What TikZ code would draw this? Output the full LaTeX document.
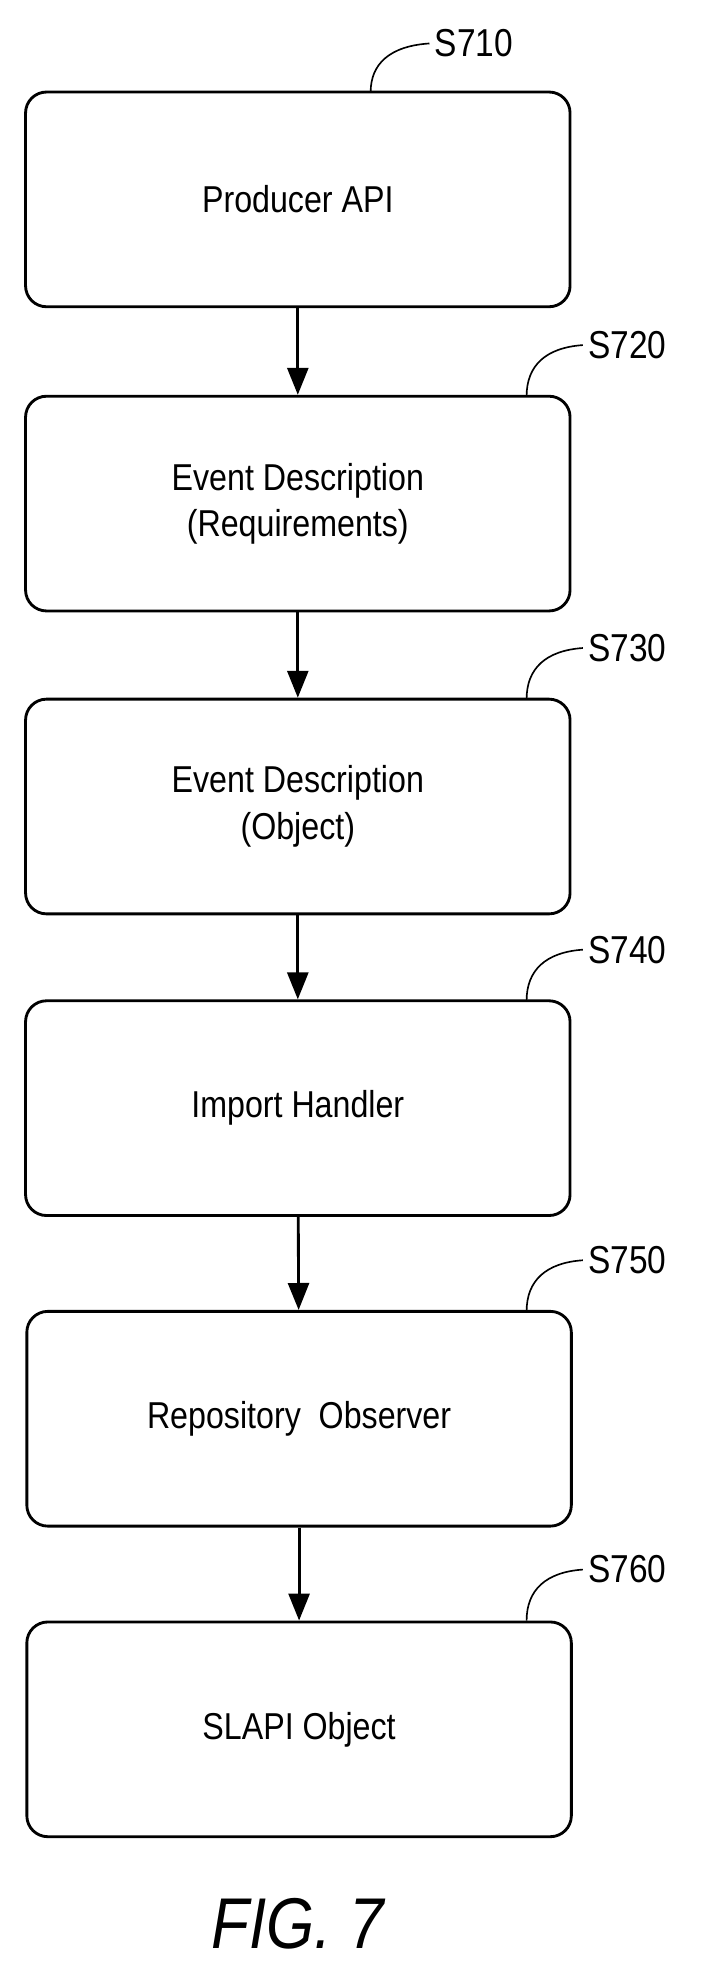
\documentclass[tikz,border=0pt]{standalone}
\usepackage{fontspec}
\setmainfont[FakeStretch=0.86]{Liberation Sans}
\usetikzlibrary{arrows.meta, positioning}

\begin{document}
\begin{tikzpicture}[x=0.03cm, y=-0.03cm,
    stage/.style={draw, line width=1.9pt, rounded corners=14pt, minimum width=12.78cm,
      minimum height=5.04cm, align=center, font=\fontsize{25}{31}\selectfont},
    tag/.style={font=\fontsize{26}{31}\selectfont, anchor=west},
    flow/.style={line width=1.9pt, -{Triangle[length=18pt, width=14pt]}}]
  \useasboundingbox (0,0) rectangle (550,1546);

  % Steps
  \node[stage] (p) at (233,156) {Producer API};
  \node[stage] (r) at (233,394) {Event Description\\(Requirements)};
  \node[stage] (o) at (233,631) {Event Description\\(Object)};
  \node[stage] (h) at (233,867) {Import Handler};
  \node[stage] (ro) at (234,1110) {Repository\ \ Observer};
  \node[stage] (s) at (234,1353) {SLAPI Object};

  % Connectors
  \draw[flow] (p) -- (r);
  \draw[flow] (r) -- (o);
  \draw[flow] (o) -- (h);
  \draw[flow] (h) -- (ro);
  \draw[flow] (ro) -- (s);

  % Step labels
  \node[tag] (t1) at (336,34) {S710};
  \draw[line width=1.1pt] (290,72) .. controls (290,50) and (305,36) .. (t1.west);
  \foreach \n/\y/\lab in {r/310/S720, o/547/S730, h/783/S740, ro/1026/S750, s/1268/S760} {
    \node[tag] (t\n) at (456,\y-40) {\lab};
    \draw[line width=1.1pt] (412,\y) .. controls (412,\y-24) and (427,\y-38) .. (t\n.west);
  }

  % Caption
  \node[font=\fontsize{48}{56}\selectfont\itshape] (cap) at (233,1505) {FIG. 7};
\end{tikzpicture}
\end{document}
